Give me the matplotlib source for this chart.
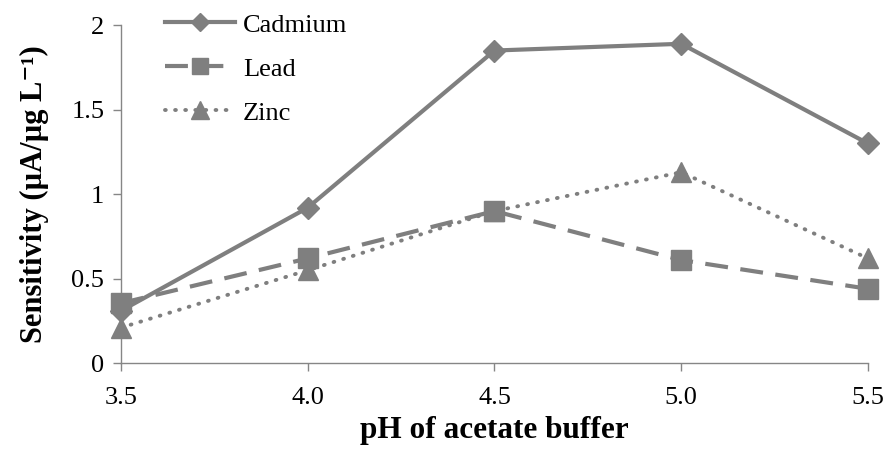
import matplotlib
matplotlib.use("Agg")
import matplotlib.pyplot as plt

ph = [3.5, 4.0, 4.5, 5.0, 5.5]
ph_labels = ["3.5", "4.0", "4.5", "5.0", "5.5"]
cadmium = [0.31, 0.92, 1.85, 1.89, 1.30]
lead = [0.355, 0.62, 0.90, 0.61, 0.44]
zinc = [0.21, 0.55, 0.90, 1.13, 0.62]
y_ticks = [0, 0.5, 1, 1.5, 2]
y_tick_labels = ["0", "0.5", "1", "1.5", "2"]

plt.rcParams["font.family"] = ["Liberation Serif", "DejaVu Serif"]
gray = "#7f7f7f"
axis_gray = "#868686"

fig = plt.figure(figsize=(8.86, 4.5), dpi=100)
ax = fig.add_axes([0.1366, 0.193, 0.843, 0.751])

ax.plot(ph, cadmium, color=gray, lw=3, ls="-", marker="D", ms=11,
        label="Cadmium", clip_on=False, zorder=3)
ax.plot(ph, lead, color=gray, lw=3, ls=(0, (5.5, 3)), marker="s", ms=14,
        label="Lead", clip_on=False, zorder=3)
ax.plot(ph, zinc, color=gray, lw=2.8, ls=(0, (0.2, 2.4)), dash_capstyle="round",
        marker="^", ms=15, label="Zinc", clip_on=False, zorder=3)

ax.set_xlim(3.5, 5.5)
ax.set_ylim(0, 2)
ax.set_xticks(ph)
ax.set_xticklabels(ph_labels)
ax.set_yticks(y_ticks)
ax.set_yticklabels(y_tick_labels)

for side in ("top", "right"):
    ax.spines[side].set_visible(False)
for side in ("left", "bottom"):
    ax.spines[side].set_color(axis_gray)
    ax.spines[side].set_linewidth(1)
ax.tick_params(axis="both", colors=axis_gray, labelcolor="black",
               labelsize=19, direction="out", length=6, width=1)
ax.tick_params(axis="x", pad=11)
ax.tick_params(axis="y", pad=6)

ax.set_xlabel("pH of acetate buffer", fontsize=22.5, fontweight="bold", labelpad=5)
ax.set_ylabel("Sensitivity (\u00b5A/\u00b5g L\u207b\u00b9)", fontsize=22,
              fontweight="bold", labelpad=16)

leg = ax.legend(loc="upper left", bbox_to_anchor=(0.045, 1.067), frameon=False,
                fontsize=19, handlelength=2.65, handletextpad=0.3,
                labelspacing=0.78, borderaxespad=0, markerscale=0.85)

fig.savefig("out.png", dpi=100)
